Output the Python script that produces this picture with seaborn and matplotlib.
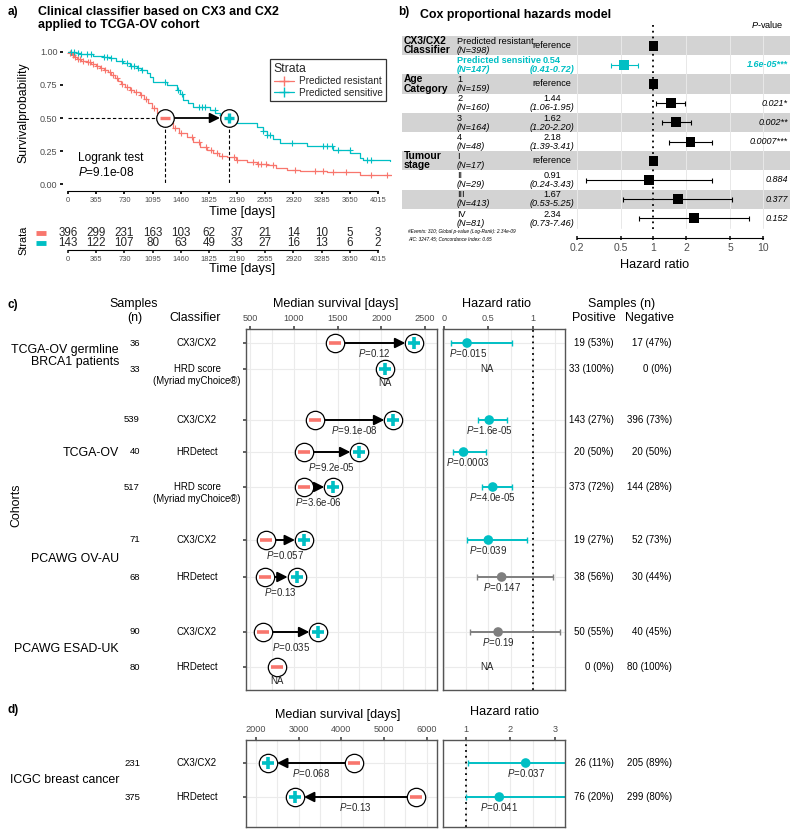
import numpy as np
import matplotlib
matplotlib.use("Agg")
import matplotlib.pyplot as plt
from matplotlib.lines import Line2D
import seaborn as sns

# -----------------------------
# data
# -----------------------------
# a) Kaplan-Meier curves, TCGA-OV (steps read off the curves)
km_labels = ["Predicted resistant", "Predicted sensitive"]
res_time = [0, 20, 50, 80, 120, 170, 240, 300, 360, 414, 470, 520, 560, 610, 650, 690,
            740, 800, 860, 930, 980, 1040, 1090, 1150, 1200, 1256, 1300, 1364, 1440, 1537,
            1620, 1710, 1800, 1882, 1960, 2055, 2180, 2314, 2450, 2573, 2700, 2832, 3000,
            3350, 3782, 4210]
res_surv = [1.0, 0.99, 0.975, 0.96, 0.95, 0.935, 0.925, 0.91, 0.895, 0.876, 0.86, 0.845,
            0.825, 0.80, 0.78, 0.76, 0.735, 0.712, 0.695, 0.674, 0.645, 0.611, 0.575, 0.535,
            0.515, 0.50, 0.47, 0.422, 0.39, 0.359, 0.32, 0.283, 0.255, 0.232, 0.215, 0.202,
            0.185, 0.169, 0.155, 0.144, 0.125, 0.106, 0.098, 0.088, 0.068, 0.068]
res_cens = [30, 60, 90, 130, 150, 200, 260, 280, 330, 380, 430, 480, 540, 580, 630, 700,
            760, 820, 880, 950, 1010, 1120, 1320, 1380, 1460, 1600, 1690, 1790, 1850, 1930,
            2000, 2150, 2190, 2400, 2460, 2500, 2560, 2650, 2940, 3200, 3300, 3430, 3600,
            3930, 4130]
sen_time = [0, 100, 155, 328, 450, 544, 620, 716, 800, 889, 950, 1019, 1060, 1105, 1278,
            1408, 1450, 1494, 1560, 1623, 1839, 1910, 1969, 2085, 2185, 2444, 2520, 2573,
            2660, 2746, 3091, 3436, 3652, 3780, 3825, 4170]
sen_surv = [1.0, 0.993, 0.985, 0.97, 0.96, 0.952, 0.935, 0.914, 0.895, 0.876, 0.86, 0.838,
            0.81, 0.775, 0.75, 0.712, 0.68, 0.636, 0.61, 0.586, 0.561, 0.54, 0.523, 0.50,
            0.46, 0.429, 0.40, 0.371, 0.34, 0.308, 0.288, 0.258, 0.232, 0.20, 0.182, 0.172]
sen_cens = [40, 80, 130, 170, 250, 300, 470, 500, 560, 700, 760, 820, 850, 900, 960, 1250,
            1420, 1470, 1700, 1740, 1780, 1900, 2000, 2060, 2520, 2580, 2610, 2900, 3300,
            3350, 3420, 3500, 3650, 3870, 3930]
km_median = [1256, 2085]
km_p = "9.1e-08"
risk_times = [0, 365, 730, 1095, 1460, 1825, 2190, 2555, 2920, 3285, 3650, 4015]
risk_res = [396, 299, 231, 163, 103, 62, 37, 21, 14, 10, 5, 3]
risk_sen = [143, 122, 107, 80, 63, 49, 33, 27, 16, 13, 6, 2]

# b) Cox proportional hazards model
cox_var = ["CX3/CX2\nClassifier", "Age\nCategory", "Tumour\nstage"]
cox_var_row = [0, 2, 6]
cox_level = ["Predicted resistant", "Predicted sensitive", "1", "2", "3", "4",
             "I", "II", "III", "IV"]
cox_n = [398, 147, 159, 160, 164, 48, 17, 29, 413, 81]
cox_hr = [1, 0.54, 1, 1.44, 1.62, 2.18, 1, 0.91, 1.67, 2.34]
cox_lo = [np.nan, 0.41, np.nan, 1.06, 1.20, 1.39, np.nan, 0.24, 0.53, 0.73]
cox_hi = [np.nan, 0.72, np.nan, 1.95, 2.20, 3.41, np.nan, 3.43, 5.25, 7.46]
cox_p = ["", "1.6e-05***", "", "0.021*", "0.002**", "0.0007***", "", "0.884", "0.377", "0.152"]
cox_note = ["#Events: 310; Global p-value (Log-Rank): 2.34e-09",
            "AIC: 3247.45; Concordance Index: 0.65"]

# c) classifiers across cohorts
c_cohorts = ["TCGA-OV germline\nBRCA1 patients", "TCGA-OV", "PCAWG OV-AU", "PCAWG ESAD-UK"]
c_cohort_rows = [[0, 1], [2, 3, 4], [5, 6], [7, 8]]
c_n = [36, 33, 539, 40, 517, 71, 68, 90, 80]
c_classifier = ["CX3/CX2", "HRD score\n(Myriad myChoice®)", "CX3/CX2", "HRDetect",
                "HRD score\n(Myriad myChoice®)", "CX3/CX2", "HRDetect", "CX3/CX2", "HRDetect"]
c_med_neg = [1471, np.nan, 1243, 1117, 1117, 679, 671, 652, 805]
c_med_pos = [2378, 2043, 2138, 1750, 1452, 1117, 1033, 1281, np.nan]
c_med_p = ["0.12", "", "9.1e-08", "9.2e-05", "3.6e-06", "0.057", "0.13", "0.035", ""]
c_hr = [0.26, np.nan, 0.51, 0.22, 0.55, 0.50, 0.65, 0.61, np.nan]
c_hr_lo = [0.08, np.nan, 0.38, 0.10, 0.43, 0.26, 0.37, 0.29, np.nan]
c_hr_hi = [0.77, np.nan, 0.71, 0.47, 0.77, 0.94, 1.23, 1.31, np.nan]
c_hr_p = ["0.015", "", "1.6e-05", "0.0003", "4.0e-05", "0.039", "0.147", "0.19", ""]
c_positive = ["19 (53%)", "33 (100%)", "143 (27%)", "20 (50%)", "373 (72%)",
              "19 (27%)", "38 (56%)", "50 (55%)", "0 (0%)"]
c_negative = ["17 (47%)", "0 (0%)", "396 (73%)", "20 (50%)", "144 (28%)",
              "52 (73%)", "30 (44%)", "40 (45%)", "80 (100%)"]

# d) ICGC breast cancer
d_cohorts = ["ICGC breast cancer"]
d_cohort_rows = [[0, 1]]
d_n = [231, 375]
d_classifier = ["CX3/CX2", "HRDetect"]
d_med_neg = [4300, 5760]
d_med_pos = [2281, 2913]
d_med_p = ["0.068", "0.13"]
d_hr = [2.34, 1.75]
d_hr_lo = [1.05, 1.0]
d_hr_hi = [4.9, 3.6]
d_hr_p = ["0.037", "0.041"]
d_positive = ["26 (11%)", "76 (20%)"]
d_negative = ["205 (89%)", "299 (80%)"]

# -----------------------------
# style / layout
# -----------------------------
sns.set_theme(style="white")
plt.rcParams["font.family"] = ["Liberation Sans", "DejaVu Sans"]
plt.rcParams["mathtext.fontset"] = "custom"
plt.rcParams["mathtext.rm"] = "Liberation Sans"
plt.rcParams["mathtext.it"] = "Liberation Sans:italic"
plt.rcParams["mathtext.bf"] = "Liberation Sans:bold"

RED = "#F8766D"
TEAL = "#00BFC4"
GREY = "#4D4D4D"
W, H = 800, 835


def rect(x0, y0, x1, y1):
    return [x0 / W, 1 - y1 / H, (x1 - x0) / W, (y1 - y0) / H]


fig = plt.figure(figsize=(W / 100, H / 100), dpi=100)
# overlay for all free text, drawn on top of the panels
ov = fig.add_axes([0, 0, 1, 1])
ov.set_xlim(0, W)
ov.set_ylim(H, 0)
ov.axis("off")
ov.set_zorder(10)


def txt(x, y, s, **kw):
    kw.setdefault("va", "center")
    kw.setdefault("color", "black")
    ov.text(x, y, s, **kw)


# -----------------------------
# a) Kaplan-Meier
# -----------------------------
txt(8, 12, "a)", fontsize=8.5, fontweight="bold")
txt(38, 12, "Clinical classifier based on CX3 and CX2", fontsize=8.9, fontweight="bold")
txt(38, 25, "applied to TCGA-OV cohort", fontsize=8.9, fontweight="bold")

ax = fig.add_axes(rect(63, 45, 392, 191))
km_xlim = (-65, 4196)
curves = [(res_time, res_surv, res_cens, RED), (sen_time, sen_surv, sen_cens, TEAL)]
for times, surv, cens, col in curves:
    sns.lineplot(x=times, y=surv, drawstyle="steps-post", estimator=None, sort=False,
                 color=col, lw=0.9, ax=ax)
    idx = np.searchsorted(times, cens, side="right") - 1
    sns.scatterplot(x=cens, y=np.array(surv)[idx], marker="+", color=col, s=22,
                    linewidth=0.8, ax=ax, zorder=3)

ax.plot([0, km_median[0]], [0.5, 0.5], ls="--", color="black", lw=0.8, dashes=(3, 2))
for m in km_median:
    ax.plot([m, m], [0.5, 0], ls="--", color="black", lw=0.8, dashes=(3, 2))
ax.annotate("", xy=(km_median[1], 0.5), xytext=(km_median[0], 0.5),
            arrowprops=dict(arrowstyle="-|>,head_length=0.5,head_width=0.25", lw=1.3,
                            color="black", shrinkA=6.5, shrinkB=6.5, mutation_scale=12))
sns.scatterplot(x=km_median, y=[0.5, 0.5], s=160, color="white", edgecolor="black",
                linewidth=0.9, ax=ax, zorder=5)
ax.plot(km_median[0], 0.5, marker="_", ms=7.5, mew=2.4, color=RED, zorder=6)
ax.plot(km_median[1], 0.5, marker="+", ms=7.5, mew=2.4, color=TEAL, zorder=6)

ax.set_xlim(*km_xlim)
ax.set_ylim(-0.053, 1.053)
ax.set_xticks(risk_times)
ax.set_xticklabels([str(v) for v in risk_times])
ax.set_yticks([0, 0.25, 0.5, 0.75, 1.0])
ax.set_yticklabels(["0.00", "0.25", "0.50", "0.75", "1.00"])
ax.tick_params(axis="x", labelsize=5.4, colors="black", labelcolor=GREY, length=2.5,
               pad=1.5, bottom=True)
ax.tick_params(axis="y", labelsize=6.5, colors="black", labelcolor=GREY, length=2.5,
               pad=1.5, left=True)
for s in ["top", "right", "left"]:
    ax.spines[s].set_visible(False)
ax.spines["bottom"].set_bounds(0, 4015)
ax.spines["bottom"].set_color("black")
ax.spines["bottom"].set_linewidth(0.8)
ax.set_xlabel("")
ax.set_ylabel("")
ax.patch.set_alpha(0)

handles = [Line2D([0], [0], color=RED, marker="+", ms=6.5, lw=0.9),
           Line2D([0], [0], color=TEAL, marker="+", ms=6.5, lw=0.9)]
leg = ax.legend(handles, km_labels, title="Strata", loc="upper left",
                bbox_to_anchor=(0.615, 0.935), frameon=True, fancybox=False,
                edgecolor="black", fontsize=7.2, title_fontsize=8.8, handlelength=2.0,
                borderpad=0.35, labelspacing=0.15, alignment="left", handletextpad=0.5)
leg.get_frame().set_linewidth(0.9)

txt(78, 158, "Logrank test", fontsize=8.6)
txt(78, 172, r"$P$=" + km_p, fontsize=8.6)
txt(242, 212, "Time [days]", fontsize=9.3, ha="center")
txt(23, 113, "Survivalprobability", fontsize=8.8, rotation=90, ha="center")

# number at risk table
axr = fig.add_axes(rect(63, 226, 392, 250))
risk_rows_px = [232.5, 243]
for vals, ry in zip([risk_res, risk_sen], risk_rows_px):
    for tx, v in zip(risk_times, vals):
        axr.text(tx, ry, str(v), ha="center", va="center", fontsize=8.4)
axr.set_xlim(*km_xlim)
axr.set_ylim(250, 226)
axr.set_xticks(risk_times)
axr.set_xticklabels([str(v) for v in risk_times])
axr.set_yticks([])
axr.tick_params(axis="x", labelsize=5.4, labelcolor=GREY, length=2.5, pad=1.5, bottom=True)
for s in ["top", "right", "left"]:
    axr.spines[s].set_visible(False)
axr.spines["bottom"].set_bounds(0, 4015)
axr.spines["bottom"].set_color("black")
axr.spines["bottom"].set_linewidth(0.8)
axr.patch.set_alpha(0)
for col, ry in zip([RED, TEAL], risk_rows_px):
    ov.plot([36, 46], [ry, ry], color=col, lw=3.5, solid_capstyle="butt")
txt(23, 240, "Strata", fontsize=7.8, rotation=90, ha="center")
txt(242, 269, "Time [days]", fontsize=9.3, ha="center")

# -----------------------------
# b) Cox model
# -----------------------------
txt(398, 12, "b)", fontsize=8.5, fontweight="bold")
txt(420, 15, "Cox proportional hazards model", fontsize=8.9, fontweight="bold")

row_top, row_h = 36, 19.2
yl = ((238 - row_top) / row_h - 0.5, (25 - row_top) / row_h - 0.5)
rows_b = np.arange(len(cox_level))
row_px = [row_top + row_h * (i + 0.5) for i in rows_b]

axbg = fig.add_axes(rect(400, 25, 800, 238))
axbg.set_xlim(400, 800)
axbg.set_ylim(*yl)
axbg.axis("off")
for i in rows_b[::2]:
    axbg.axhspan(i - 0.5, i + 0.5, xmin=2 / 400, xmax=390 / 400, color="#D3D3D3", lw=0)

for v, r in zip(cox_var, cox_var_row):
    txt(404, row_px[r], v, fontsize=7.4, fontweight="bold", ha="left", linespacing=0.9)
for i in rows_b:
    col = TEAL if i == 1 else "black"
    fw = "bold" if i == 1 else "normal"
    y = row_px[i]
    txt(457, y - 4.3, cox_level[i], fontsize=6.6, color=col, fontweight=fw)
    txt(457, y + 4.8, f"(N={cox_n[i]})", fontsize=6.6, style="italic", color=col,
        fontweight=fw)
    if np.isnan(cox_lo[i]):
        txt(552, y, "reference", fontsize=6.6, ha="center")
    else:
        txt(552, y - 4.3, f"{cox_hr[i]:.2f}", fontsize=6.6, ha="center", color=col,
            fontweight=fw)
        txt(552, y + 4.8, f"({cox_lo[i]:.2f}-{cox_hi[i]:.2f})", fontsize=6.6, ha="center",
            style="italic", color=col, fontweight=fw)
        txt(788, y, cox_p[i], fontsize=6.5, ha="right", style="italic", color=col,
            fontweight=fw)
txt(767, 25, r"$P$-value", fontsize=6.6, ha="center")
txt(408, 232, cox_note[0], fontsize=3.4, style="italic")
txt(408, 239, cox_note[1], fontsize=3.4, style="italic")

axf = fig.add_axes(rect(560, 25, 770, 238))
axf.set_xscale("log")
axf.set_xlim(0.14, 11.6)
axf.set_ylim(*yl)
for g in [0.2, 0.5, 2, 5, 10]:
    axf.plot([g, g], [-0.5, 9.5], color="#E8E8E8", lw=0.7, zorder=0)
axf.plot([1, 1], [-1.05, 9.7], color="black", ls=(0, (1, 2.2)), lw=1.3, zorder=1)
box_col = ["black" if i != 1 else TEAL for i in rows_b]
for i in rows_b:
    if not np.isnan(cox_lo[i]):
        axf.errorbar(cox_hr[i], i, xerr=[[cox_hr[i] - cox_lo[i]], [cox_hi[i] - cox_hr[i]]],
                     fmt="none", ecolor=box_col[i], elinewidth=0.8, capsize=1.8,
                     capthick=0.8, zorder=2)
sns.scatterplot(x=cox_hr, y=rows_b, hue=[str(c) for c in box_col],
                palette={"black": "black", TEAL: TEAL}, marker="s", s=50, linewidth=0,
                legend=False, ax=axf, zorder=3)
axf.set_xticks([0.2, 0.5, 1, 2, 5, 10])
axf.set_xticklabels(["0.2", "0.5", "1", "2", "5", "10"])
axf.xaxis.set_minor_locator(matplotlib.ticker.NullLocator())
axf.set_yticks([])
axf.tick_params(axis="x", labelsize=7.5, labelcolor=GREY, length=2.5, pad=2, bottom=True,
                direction="inout")
for s in ["top", "right", "left"]:
    axf.spines[s].set_visible(False)
axf.spines["bottom"].set_bounds(0.2, 10)
axf.spines["bottom"].set_color("black")
axf.spines["bottom"].set_linewidth(0.8)
axf.set_xlabel("")
axf.set_ylabel("")
axf.patch.set_alpha(0)
txt(655, 265, "Hazard ratio", fontsize=9.2, ha="center")


# -----------------------------
# c) and d) helpers
# -----------------------------
def frame(a, ylim):
    a.set_ylim(*ylim)
    a.xaxis.tick_top()
    a.tick_params(axis="x", labelsize=6.6, labelcolor=GREY, colors=GREY, length=2.5,
                  pad=1.5, top=True, bottom=False)
    for s in a.spines.values():
        s.set_color("#555555")
        s.set_linewidth(1.0)
    a.set_xlabel("")
    a.set_ylabel("")


def median_panel(a, ys, neg, pos, pvals, xlim, ticks, grid, ylim, width_px):
    a.set_xlim(*xlim)
    px_per = width_px / (xlim[1] - xlim[0])
    for g in grid:
        a.axvline(g, color="#EBEBEB", lw=0.8, zorder=0)
    for y in ys:
        a.axhline(y, color="#EBEBEB", lw=0.8, zorder=0)
    for y, n, p, pv in zip(ys, neg, pos, pvals):
        if not np.isnan(n) and not np.isnan(p):
            a.annotate("", xy=(p, y), xytext=(n, y),
                       arrowprops=dict(arrowstyle="-|>,head_length=0.5,head_width=0.25",
                                       lw=1.4, color="black", shrinkA=6.5, shrinkB=6.5,
                                       mutation_scale=12), zorder=2)
            label = r"$P$=" + pv
            # push the label lower when it would run into the circles
            free = abs(p - n) * px_per / 2 - 9
            dy = 10 if free > 2.7 * (len(pv) + 2) else 15
            a.text((n + p) / 2, y + dy, label, ha="center", va="center", fontsize=7,
                   zorder=7)
        else:
            only = n if np.isnan(p) else p
            a.text(only, y + 14, "NA", ha="center", va="center", fontsize=7, zorder=7)
    xs = [v for v in list(neg) + list(pos) if not np.isnan(v)]
    yy = [y for v, y in zip(list(neg) + list(pos), list(ys) * 2) if not np.isnan(v)]
    sns.scatterplot(x=xs, y=yy, s=175, color="white", edgecolor="black", linewidth=0.9,
                    ax=a, zorder=4)
    a.plot(neg, ys, ls="none", marker="_", ms=8, mew=2.6, color=RED, zorder=5)
    a.plot(pos, ys, ls="none", marker="+", ms=8.5, mew=2.6, color=TEAL, zorder=5)
    a.set_xticks(ticks)
    a.set_xticklabels([str(t) for t in ticks])
    a.set_yticks(ys)
    a.set_yticklabels([])
    a.tick_params(axis="y", length=2.5, colors=GREY, left=True)
    frame(a, ylim)


def hr_panel(a, ys, hr, lo, hi, pvals, xlim, ticks, ticklabels, grid, ylim, pmin):
    a.set_xlim(*xlim)
    for g in grid:
        a.axvline(g, color="#EBEBEB", lw=0.8, zorder=0)
    for y in ys:
        a.axhline(y, color="#EBEBEB", lw=0.8, zorder=0)
    a.axvline(1, color="black", ls=(0, (1, 2.2)), lw=1.3, zorder=1)
    cols = []
    for y, h, l, u, pv in zip(ys, hr, lo, hi, pvals):
        if np.isnan(h):
            a.text(0.48, y, "NA", ha="center", va="center", fontsize=7)
            continue
        col = TEAL if float(pv) < 0.05 else "#7F7F7F"
        cols.append(col)
        a.errorbar(h, y, xerr=[[h - l], [u - h]], fmt="none", ecolor=col, elinewidth=1.4,
                   capsize=2, capthick=1, zorder=2)
        a.text(max(h, pmin), y + 10, r"$P$=" + pv, ha="center", va="center", fontsize=7,
               zorder=6)
    keep = [i for i, h in enumerate(hr) if not np.isnan(h)]
    sns.scatterplot(x=[hr[i] for i in keep], y=[ys[i] for i in keep], hue=cols,
                    palette={TEAL: TEAL, "#7F7F7F": "#7F7F7F"}, s=48, linewidth=0,
                    legend=False, ax=a, zorder=3)
    a.set_xticks(ticks)
    a.set_xticklabels(ticklabels)
    a.set_yticks([])
    frame(a, ylim)


def row_text(ys, n, clf, cohorts, cohort_rows, positive, negative):
    for y, nn, cl, p, q in zip(ys, n, clf, positive, negative):
        txt(140, y, str(nn), fontsize=6.8, ha="right")
        lines = cl.split("\n")
        txt(197, y, lines[0], fontsize=6.9, ha="center")
        if len(lines) > 1:
            txt(197, y + 12, lines[1], fontsize=6.9, ha="center")
        txt(614, y, p, fontsize=7, ha="right")
        txt(672, y, q, fontsize=7, ha="right")
    for name, rr in zip(cohorts, cohort_rows):
        yc = (ys[rr[0]] + ys[rr[-1]]) / 2
        txt(119, yc, name, fontsize=8.9, ha="right", linespacing=0.95)


# -----------------------------
# c) cohorts
# -----------------------------
c_rows_px = [343, 369, 420, 452, 487, 540, 577, 632, 667]
txt(8, 305, "c)", fontsize=8.5, fontweight="bold")
txt(134, 304, "Samples", fontsize=8.9, ha="center")
txt(135, 318, "(n)", fontsize=8.9, ha="center")
txt(195, 318, "Classifier", fontsize=8.9, ha="center")
txt(336, 304, "Median survival [days]", fontsize=9.1, ha="center")
txt(497, 304, "Hazard ratio", fontsize=9.1, ha="center")
txt(622, 304, "Samples (n)", fontsize=8.9, ha="center")
txt(594, 318, "Positive", fontsize=8.9, ha="center")
txt(650, 318, "Negative", fontsize=8.9, ha="center")
txt(16, 505, "Cohorts", fontsize=8.9, rotation=90, ha="center")

axc1 = fig.add_axes(rect(246, 329, 437, 690))
median_panel(axc1, c_rows_px, c_med_neg, c_med_pos, c_med_p, (454, 2637),
             [500, 1000, 1500, 2000, 2500],
             [500, 750, 1000, 1250, 1500, 1750, 2000, 2250, 2500], (690, 329), 191)
axc2 = fig.add_axes(rect(443, 329, 565, 690))
hr_panel(axc2, c_rows_px, c_hr, c_hr_lo, c_hr_hi, c_hr_p, (-0.011, 1.364),
         [0, 0.5, 1], ["0", "0.5", "1"], [0, 0.25, 0.5, 0.75, 1, 1.25], (690, 329), 0.27)
row_text(c_rows_px, c_n, c_classifier, c_cohorts, c_cohort_rows, c_positive, c_negative)

# -----------------------------
# d) ICGC breast cancer
# -----------------------------
d_rows_px = [763, 797]
txt(8, 710, "d)", fontsize=8.5, fontweight="bold")
txt(338, 715, "Median survival [days]", fontsize=9.1, ha="center")
txt(505, 712, "Hazard ratio", fontsize=9.1, ha="center")

axd1 = fig.add_axes(rect(246, 740, 437, 827))
median_panel(axd1, d_rows_px, d_med_neg, d_med_pos, d_med_p, (1766, 6241),
             [2000, 3000, 4000, 5000, 6000],
             [2000, 2500, 3000, 3500, 4000, 4500, 5000, 5500, 6000], (827, 740), 191)
axd2 = fig.add_axes(rect(443, 740, 565, 827))
hr_panel(axd2, d_rows_px, d_hr, d_hr_lo, d_hr_hi, d_hr_p, (0.49, 3.22),
         [1, 2, 3], ["1", "2", "3"], [0.5, 1, 1.5, 2, 2.5, 3], (827, 740), 0)
row_text(d_rows_px, d_n, d_classifier, d_cohorts, d_cohort_rows, d_positive, d_negative)

fig.savefig("out.png", dpi=100)
